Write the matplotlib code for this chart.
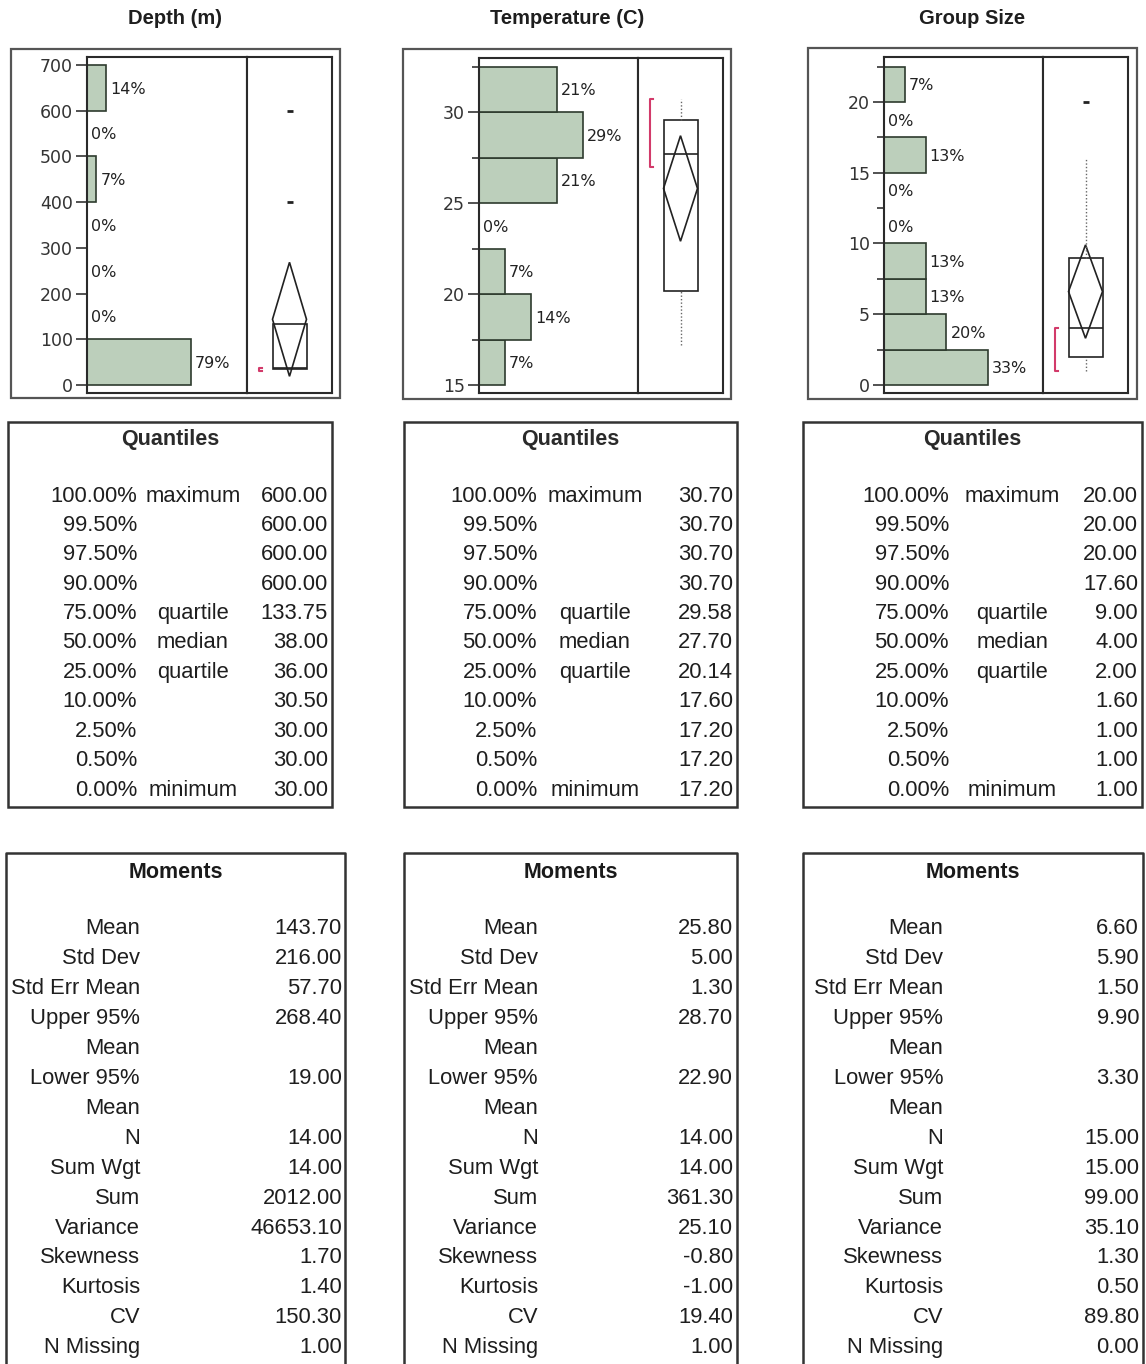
import matplotlib
matplotlib.use("Agg")
import matplotlib.pyplot as plt
from matplotlib.patches import Rectangle, Polygon

W, H = 1146, 1364

# ---- data ----
titles = ["Depth (m)", "Temperature (C)", "Group Size"]

depth_edges = [0, 100, 200, 300, 400, 500, 600, 700]
depth_counts = [11, 0, 0, 0, 1, 0, 2]
temp_edges = [15, 17.5, 20, 22.5, 25, 27.5, 30, 32.5]
temp_counts = [1, 2, 1, 0, 3, 4, 3]
group_edges = [0, 2.5, 5, 7.5, 10, 12.5, 15, 17.5, 20, 22.5]
group_counts = [5, 3, 2, 2, 0, 0, 2, 0, 1]

depth_ticks = [0, 100, 200, 300, 400, 500, 600, 700]
temp_ticks = [15, 20, 25, 30]
group_ticks = [0, 5, 10, 15, 20]

quant_pct = ["100.00%", "99.50%", "97.50%", "90.00%", "75.00%", "50.00%",
             "25.00%", "10.00%", "2.50%", "0.50%", "0.00%"]
quant_lbl = ["maximum", "", "", "", "quartile", "median", "quartile", "", "", "", "minimum"]
depth_quant = [600, 600, 600, 600, 133.75, 38, 36, 30.5, 30, 30, 30]
temp_quant = [30.7, 30.7, 30.7, 30.7, 29.58, 27.7, 20.14, 17.6, 17.2, 17.2, 17.2]
group_quant = [20, 20, 20, 17.6, 9, 4, 2, 1.6, 1, 1, 1]

mom_lbl = ["Mean", "Std Dev", "Std Err Mean", "Upper 95%", "Mean", "Lower 95%", "Mean",
           "N", "Sum Wgt", "Sum", "Variance", "Skewness", "Kurtosis", "CV", "N Missing"]
depth_mom = [143.7, 216.0, 57.7, 268.4, None, 19.0, None, 14, 14, 2012, 46653.1, 1.7, 1.4, 150.3, 1.0]
temp_mom = [25.8, 5.0, 1.3, 28.7, None, 22.9, None, 14, 14, 361.3, 25.1, -0.8, -1.0, 19.4, 1.0]
group_mom = [6.6, 5.9, 1.5, 9.9, None, 3.3, None, 15, 15, 99, 35.1, 1.3, 0.5, 89.8, 0.0]

depth_whisk = [30, 133.75]
temp_whisk = [17.2, 30.7]
group_whisk = [1, 16]
depth_out = [400, 600]
temp_out = []
group_out = [20]
depth_short = [30, 38]
temp_short = [27.0, 30.7]
group_short = [1, 4]

# ---- layout (pixels) ----
fig = plt.figure(figsize=(W / 100, H / 100), dpi=100)
fig.patch.set_facecolor("white")

def px_axes(x0, y0, x1, y1, **kw):
    return fig.add_axes([x0 / W, 1 - y1 / H, (x1 - x0) / W, (y1 - y0) / H], **kw)

over = px_axes(0, 0, W, H)
over.set_xlim(0, W)
over.set_ylim(H, 0)
over.axis("off")
over.set_zorder(-1)

TFONT = ["Liberation Sans", "DejaVu Sans"]
HFONT = ["DejaVu Sans"]
GREEN = "#bccfbb"
EDGE = "#2e3b2e"
RED = "#d23a6a"
INK = "#1e1e1e"

panels = [
    dict(title=titles[0], edges=depth_edges, counts=depth_counts, ticks=depth_ticks,
         quant=depth_quant, mom=depth_mom, whisk=depth_whisk, out=depth_out, short=depth_short,
         outer=(11, 49, 340, 398), hist=(87, 57, 247, 393), box=(247, 57, 332, 393),
         ylim=(-17.5, 717.5), xmax=1.21, minor=False),
    dict(title=titles[1], edges=temp_edges, counts=temp_counts, ticks=temp_ticks,
         quant=temp_quant, mom=temp_mom, whisk=temp_whisk, out=temp_out, short=temp_short,
         outer=(403, 49, 731, 399), hist=(479, 58, 638, 393), box=(638, 58, 723, 393),
         ylim=(14.56, 32.97), xmax=0.437, minor=True),
    dict(title=titles[2], edges=group_edges, counts=group_counts, ticks=group_ticks,
         quant=group_quant, mom=group_mom, whisk=group_whisk, out=group_out, short=group_short,
         outer=(808, 48, 1137, 399), hist=(884, 57, 1043, 393), box=(1043, 57, 1128, 393),
         ylim=(-0.57, 23.18), xmax=0.51, minor=True),
]

quant_boxes = [(8, 422, 332, 807), (404, 422, 737, 807), (803, 422, 1142, 807)]
quant_cols = [(137, 193, 328), (537, 595, 733), (949, 1012, 1138)]
mom_boxes = [(6, 853, 345), (404, 853, 737), (803, 853, 1143)]
mom_cols = [(140, 342), (538, 733), (943, 1139)]

for i, p in enumerate(panels):
    ox0, oy0, ox1, oy1 = p["outer"]
    cx = (ox0 + ox1) / 2
    over.text(cx, 18, p["title"], ha="center", va="center", fontsize=14.5, fontweight="bold",
              family=["Liberation Sans Narrow", "Liberation Sans"], color=INK)
    over.add_patch(Rectangle((ox0, oy0), ox1 - ox0, oy1 - oy0, fill=False, ec="#555555", lw=1.6))

    # histogram
    ax = px_axes(*p["hist"])
    edges = p["edges"]
    n = sum(p["counts"])
    frac = [c / n for c in p["counts"]]
    widths = [edges[k + 1] - edges[k] for k in range(len(frac))]
    ax.barh(edges[:-1], frac, height=widths, align="edge", color=GREEN, edgecolor=EDGE, linewidth=1.2)
    for k, f in enumerate(frac):
        ax.annotate("%d%%" % round(f * 100), (f, edges[k] + widths[k] / 2), xytext=(3, -1),
                    textcoords="offset points", va="center", ha="left", fontsize=11.5,
                    family=HFONT, color="#222222")
    ax.set_xlim(0, p["xmax"])
    ax.set_ylim(*p["ylim"])
    ax.set_xticks([])
    ax.set_yticks(p["ticks"])
    if p["minor"]:
        ax.set_yticks([t + 2.5 for t in p["ticks"]], minor=True)
    ax.tick_params(axis="y", which="major", direction="out", length=8, width=1.2,
                   color="#333333", labelsize=12.5, labelcolor="#333333", pad=2)
    ax.tick_params(axis="y", which="minor", direction="out", length=5, width=1.2, color="#333333")
    for lab in ax.get_yticklabels():
        lab.set_family(HFONT)
    for s in ax.spines.values():
        s.set_color("#2a2a2a")
        s.set_linewidth(1.5)

    # outlier box plot with means diamond
    bx = px_axes(*p["box"])
    bx.set_xlim(0, 1)
    bx.set_ylim(*p["ylim"])
    bx.set_xticks([])
    bx.set_yticks([])
    for s in bx.spines.values():
        s.set_color("#2a2a2a")
        s.set_linewidth(1.5)
    q = p["quant"]
    m = p["mom"]
    q1, med, q3 = q[6], q[5], q[4]
    mean, up95, lo95 = m[0], m[3], m[5]
    bx.vlines(0.5, p["whisk"][0], q1, colors="#666666", lw=1, linestyles=(0, (1, 1.5)))
    bx.vlines(0.5, q3, p["whisk"][1], colors="#666666", lw=1, linestyles=(0, (1, 1.5)))
    bx.add_patch(Rectangle((0.3, q1), 0.4, q3 - q1, fill=False, ec="#222222", lw=1.2))
    bx.hlines(med, 0.3, 0.7, colors="#222222", lw=1.2)
    bx.add_patch(Polygon([(0.3, mean), (0.5, up95), (0.7, mean), (0.5, lo95)], closed=True,
                         fill=False, ec="#222222", lw=1.2))
    if p["out"]:
        bx.plot([0.5] * len(p["out"]), p["out"], ls="none", marker="_", ms=4, mew=2, color="#222222")
    s0, s1 = p["short"]
    bx.plot([0.175, 0.14, 0.14, 0.175], [s0, s0, s1, s1], color=RED, lw=1.5)

    # quantiles table
    x0, y0, x1, y1 = quant_boxes[i]
    over.add_patch(Rectangle((x0, y0), x1 - x0, y1 - y0, fill=False, ec="#333333", lw=1.8))
    over.text((x0 + x1) / 2, 439, "Quantiles", ha="center", va="center", fontsize=15.5,
              fontweight="bold", family=TFONT, color="#2a2a2a")
    pc, lc, vc = quant_cols[i]
    for r in range(len(quant_pct)):
        y = 496 + r * 29.4
        over.text(pc, y, quant_pct[r], ha="right", va="center", fontsize=15.8, family=TFONT, color=INK)
        over.text(lc, y, quant_lbl[r], ha="center", va="center", fontsize=15.8, family=TFONT, color=INK)
        over.text(vc, y, "%.2f" % q[r], ha="right", va="center", fontsize=15.8, family=TFONT, color=INK)

    # moments table (runs off the bottom of the image)
    x0, y0, x1 = mom_boxes[i]
    over.plot([x0, x0, x1, x1], [H + 5, y0, y0, H + 5], color="#333333", lw=1.8)
    over.text((x0 + x1) / 2, 872, "Moments", ha="center", va="center", fontsize=15.5,
              fontweight="bold", family=TFONT, color="#1a1a1a")
    lc, vc = mom_cols[i]
    for r in range(len(mom_lbl)):
        y = 929 + r * 29.9
        over.text(lc, y, mom_lbl[r], ha="right", va="center", fontsize=15.8, family=TFONT, color=INK)
        if m[r] is not None:
            over.text(vc, y, "%.2f" % m[r], ha="right", va="center", fontsize=15.8, family=TFONT, color=INK)

over.set_xlim(0, W)
over.set_ylim(H, 0)
fig.savefig("out.png", dpi=100, facecolor="white")
